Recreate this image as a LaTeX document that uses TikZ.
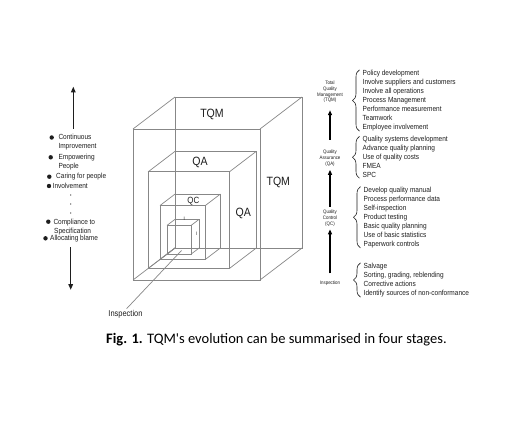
\documentclass[tikz,border=0pt]{standalone}
\usepackage{fontspec}
\setmainfont{Liberation Sans}
\newfontfamily\narrowf{Liberation Sans}[FakeStretch=0.88]
\newfontfamily\capfont{Carlito}
\usetikzlibrary{arrows.meta,decorations.pathreplacing}
\definecolor{cubegray}{RGB}{135,135,135}
\definecolor{txtgray}{RGB}{30,30,30}
\tikzset{
  cubeline/.style={draw=cubegray, line width=0.7pt},
  bigtxt/.style={font=\narrowf\fontsize{12}{14}\selectfont, inner sep=0, text=txtgray},
  qctxt/.style={font=\narrowf\fontsize{9}{10}\selectfont, inner sep=0, text=txtgray},
  itxt/.style={font=\narrowf\fontsize{5}{6}\selectfont, inner sep=0, text=txtgray},
  smalltxt/.style={font=\narrowf\fontsize{7.4}{9}\selectfont, inner sep=0, align=left, text=txtgray},
  tinytxt/.style={font=\narrowf\fontsize{5}{5.8}\selectfont, inner sep=0, align=center, text=txtgray},
  insptxt/.style={font=\narrowf\fontsize{8.5}{10}\selectfont, inner sep=0, text=txtgray},
  bigarrow/.style={line width=1.5pt, draw=txtgray, -{Triangle[length=6pt,width=4.5pt]}},
  stagearrow/.style={line width=1.5pt, draw=black, -{Triangle[length=5pt,width=4pt]}},
  bracestyle/.style={decorate, decoration={brace, amplitude=7pt}, draw=txtgray, line width=0.6pt},
  bul/.style={fill=txtgray, circle, inner sep=0, minimum size=4.4pt},
  captxt/.style={font=\capfont\fontsize{14.5}{17}\selectfont, inner sep=0}
}
\newcommand\mycube[1]{%
  \begin{scope}[shift={(175,248)}, scale=#1]
    \draw[cubeline] (0,0) rectangle (127,-151);
    \draw[cubeline] (-42,32) rectangle (85,-119);
    \draw[cubeline] (0,0) -- (-42,32);
    \draw[cubeline] (127,0) -- (85,32);
    \draw[cubeline] (127,-151) -- (85,-119);
    \draw[cubeline] (0,-151) -- (-42,-119);
  \end{scope}}
\begin{document}
\begin{tikzpicture}[x=1pt,y=-1pt]
\useasboundingbox[fill=white] (0,0) rectangle (508,441);

% nested cubes
\mycube{1}
\mycube{0.64}
\mycube{0.357}
\mycube{0.19}

% cube labels
\node[bigtxt] (tqmtop) at (212,114.5) {TQM};
\node[bigtxt] (qatop) at (200,162) {QA};
\node[qctxt] (qctop) at (193.3,201) {QC};
\node[bigtxt] (tqmside) at (278.3,182.3) {TQM};
\node[bigtxt] (qaside) at (243.3,213.3) {QA};
\node[itxt] (itop) at (184.3,218.3) {I};
\node[itxt] (iside) at (196.7,233.3) {I};

% inspection leader
\node[insptxt] (inspb) at (125.5,314) {Inspection};
\coordinate (ifloor) at (181.5,250.5);
\draw[cubeline, shorten <=1.5pt] (inspb.north) -- (ifloor);

% left column
\coordinate (upS) at (73.3,128.5);
\coordinate (upE) at (73.3,86.5);
\draw[bigarrow] (upS) -- (upE);
\coordinate (dnS) at (70.7,247);
\coordinate (dnE) at (70.7,290);
\draw[bigarrow] (dnS) -- (dnE);

\node[smalltxt, anchor=west] (l1) at (58.3,142.2) {Continuous\\Improvement};
\node[bul] (b1) at (51.7,137.5) {};
\node[smalltxt, anchor=west] (l2) at (58.3,161.7) {Empowering\\People};
\node[bul] (b2) at (50.7,157.3) {};
\node[smalltxt, anchor=west] (l3) at (56,176.7) {Caring for people};
\node[bul] (b3) at (49.3,176.7) {};
\node[smalltxt, anchor=west] (l4) at (52.5,186) {Involvement};
\node[bul] (b4) at (49,186) {};
\fill[txtgray] (70.7,195) circle (0.6);
\fill[txtgray] (70.7,204) circle (0.6);
\fill[txtgray] (70.7,213) circle (0.6);
\node[smalltxt, anchor=west] (l5) at (53.3,226.7) {Compliance to\\\hspace*{0.7pt}Specification};
\node[bul] (b5) at (48.3,221.7) {};
\node[smalltxt, anchor=west] (l6) at (50,238.3) {Allocating blame};
\node[bul] (b6) at (45.5,238.3) {};

% right column stage labels
\node[tinytxt] (stqm) at (330,92) {Total\\Quality\\Management\\(TQM)};
\node[tinytxt] (sqa) at (330,158) {Quality\\Assurance\\(QA)};
\node[tinytxt] (sqc) at (330,218) {Quality\\Control\\(QC)};
\node[tinytxt] (sinsp) at (330,283) {Inspection};
\draw[stagearrow, shorten <=7pt, shorten >=3pt] (sinsp.north) -- (sqc.south);
\draw[stagearrow, shorten <=3pt, shorten >=3.5pt] (sqc.north) -- (sqa.south);
\draw[stagearrow, shorten <=10pt, shorten >=7pt] (sqa.north) -- (stqm.south);

% groups
\node[smalltxt, anchor=west] (g1) at (362.5,100.5) {Policy development\\Involve suppliers and customers\\Involve all operations\\Process Management\\Performance measurement\\Teamwork\\Employee involvement};
\node[smalltxt, anchor=west] (g2) at (362.5,157.3) {Quality systems development\\Advance quality planning\\Use of quality costs\\FMEA\\SPC};
\node[smalltxt, anchor=west] (g3) at (363.5,217.3) {Develop quality manual\\Process performance data\\Self-inspection\\Product testing\\Basic quality planning\\Use of basic statistics\\Paperwork controls};
\node[smalltxt, anchor=west] (g4) at (363.5,280) {Salvage\\Sorting, grading, reblending\\Corrective actions\\Identify sources of non-conformance};
\draw[bracestyle] ([xshift=-3pt]g1.south west) -- ([xshift=-3pt]g1.north west);
\draw[bracestyle] ([xshift=-3pt]g2.south west) -- ([xshift=-3pt]g2.north west);
\draw[bracestyle] ([xshift=-3pt]g3.south west) -- ([xshift=-3pt]g3.north west);
\draw[bracestyle] ([xshift=-3pt]g4.south west) -- ([xshift=-3pt]g4.north west);

% caption
\node[captxt, anchor=west] (cap) at (106,340) {\textbf{Fig. 1.} TQM's evolution can be summarised in four stages.};
\end{tikzpicture}
\end{document}
